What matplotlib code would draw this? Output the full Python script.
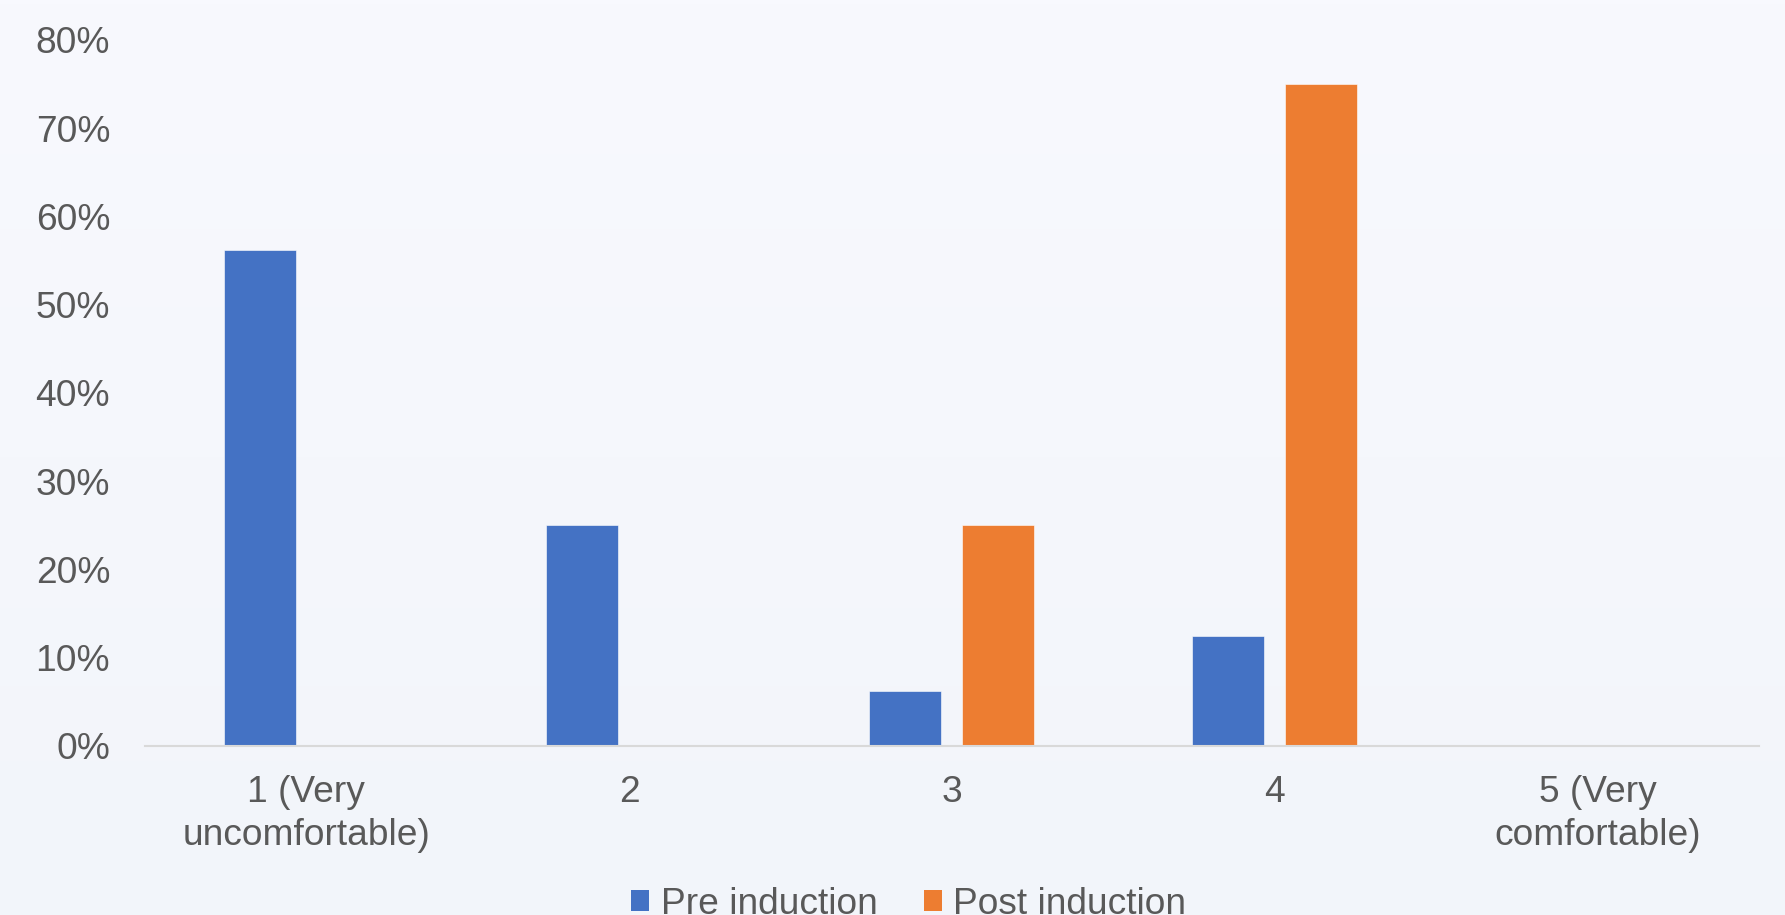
import numpy as np
from matplotlib import pyplot as plt
from matplotlib.patches import Patch

categories = ["1 (Very\nuncomfortable)", "2", "3", "4", "5 (Very\ncomfortable)"]
pre_induction = [0.5625, 0.25, 0.0625, 0.125, 0.0]
post_induction = [0.0, 0.0, 0.25, 0.75, 0.0]
y_ticks = [0, 0.1, 0.2, 0.3, 0.4, 0.5, 0.6, 0.7, 0.8]
series_names = ["Pre induction", "Post induction"]

blue, orange = "#4472C4", "#ED7D31"
text_color = "#595959"
fsize = 26.7

plt.rcParams['font.family'] = ['Liberation Sans', 'DejaVu Sans']

fig = plt.figure(figsize=(17.85, 9.15), dpi=100)

# soft vertical gradient behind everything
bg = fig.add_axes([0, 0, 1, 1], zorder=-10)
top = np.array([248, 249, 254]) / 255
bottom = np.array([242, 245, 250]) / 255
t = np.linspace(0, 1, 256)[:, None]
grad = (top * (1 - t) + bottom * t)[:, None, :]
bg.imshow(grad, aspect='auto', extent=[0, 1, 0, 1])
bg.axis('off')

ax = fig.add_axes([0.0812, 0.1847, 0.9042, 0.7716])
ax.set_facecolor('none')

x = np.arange(len(categories))
width = 0.223
ax.bar(x - 0.145, pre_induction, width, color=blue, edgecolor='white', linewidth=0.4, zorder=3)
ax.bar(x + 0.143, post_induction, width, color=orange, edgecolor='white', linewidth=0.4, zorder=3)

ax.set_xlim(-0.5, len(categories) - 0.5)
ax.set_ylim(0, 0.8)
ax.set_yticks(y_ticks)
ax.set_yticklabels([f"{int(round(v * 100))}%" for v in y_ticks])
ax.set_xticks(x)
ax.set_xticklabels(categories, linespacing=1.28)

ax.tick_params(axis='y', length=0, pad=25, labelsize=fsize, labelcolor=text_color)
ax.tick_params(axis='x', length=0, pad=21, labelsize=fsize, labelcolor=text_color)

for side in ['top', 'right', 'left']:
    ax.spines[side].set_visible(False)
ax.spines['bottom'].set_color('#D9D9D9')
ax.spines['bottom'].set_linewidth(1.5)
ax.spines['bottom'].set_zorder(4)

handles = [Patch(facecolor=blue), Patch(facecolor=orange)]
fig.legend(handles, series_names, loc='center', bbox_to_anchor=(0.509, 0.012),
           ncol=2, frameon=False, fontsize=fsize, labelcolor=text_color,
           handlelength=0.5, handleheight=0.5, handletextpad=0.3, columnspacing=1.25,
           borderpad=0)

fig.savefig("out.png", dpi=100)
